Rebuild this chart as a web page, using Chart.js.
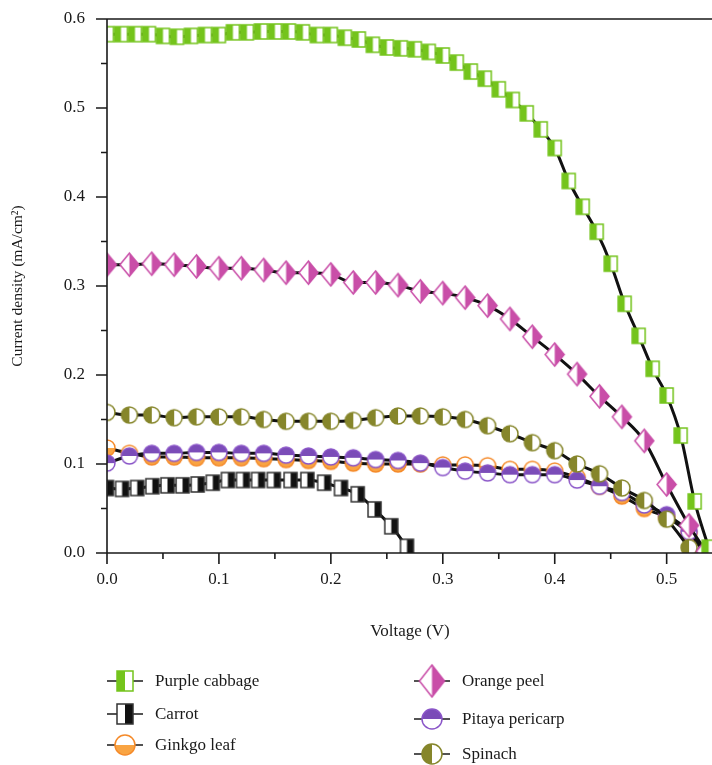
<!DOCTYPE html>
<html>
<head>
<meta charset="utf-8">
<title>J-V curves</title>
<script src="https://cdn.jsdelivr.net/npm/chart.js@4.4.1/dist/chart.umd.min.js"></script>
<style>
  html, body { margin: 0; padding: 0; background: #fff; overflow: hidden; }
  canvas { display: block; }
</style>
</head>
<body>
<canvas id="jv" width="724" height="765"></canvas>
<script>
// J-V curves of dye-sensitized cells with natural dyes

// voltage (V) / current density (mA/cm2) per dye
var cabbageV = [0, 0.0125, 0.025, 0.0375, 0.05, 0.0625, 0.075, 0.0875, 0.1, 0.1125, 0.125, 0.1375, 0.15, 0.1625, 0.175, 0.1875,
  0.2, 0.2125, 0.225, 0.2375, 0.25, 0.2625, 0.275, 0.2875, 0.3, 0.3125, 0.325, 0.3375, 0.35, 0.3625, 0.375, 0.3875,
  0.4, 0.4125, 0.425, 0.4375, 0.45, 0.4625, 0.475, 0.4875, 0.5, 0.5125, 0.525, 0.5375];
var cabbageJ = [0.583, 0.583, 0.583, 0.583, 0.581, 0.580, 0.581, 0.582, 0.582, 0.585, 0.585, 0.586, 0.586, 0.586, 0.585, 0.582,
  0.582, 0.579, 0.577, 0.571, 0.568, 0.567, 0.566, 0.563, 0.559, 0.551, 0.541, 0.533, 0.521, 0.509, 0.494, 0.476,
  0.455, 0.418, 0.389, 0.361, 0.325, 0.280, 0.244, 0.207, 0.177, 0.132, 0.058, 0.006];

var carrotV = [0, 0.0135, 0.027, 0.0405, 0.054, 0.0675, 0.081, 0.0945, 0.108, 0.1215, 0.135, 0.149, 0.164, 0.179,
  0.194, 0.209, 0.224, 0.239, 0.254, 0.268];
var carrotJ = [0.073, 0.072, 0.073, 0.075, 0.076, 0.076, 0.077, 0.079, 0.082, 0.082, 0.082, 0.082, 0.082, 0.082,
  0.079, 0.073, 0.066, 0.049, 0.030, 0.007];

var peelV = [0, 0.02, 0.04, 0.06, 0.08, 0.1, 0.12, 0.14, 0.16, 0.18, 0.2, 0.22, 0.24, 0.26, 0.28, 0.3, 0.32, 0.34,
  0.36, 0.38, 0.4, 0.42, 0.44, 0.46, 0.48, 0.5, 0.52, 0.535];
var peelJ = [0.324, 0.324, 0.325, 0.324, 0.322, 0.320, 0.320, 0.318, 0.315, 0.315, 0.313, 0.304, 0.304, 0.301, 0.294,
  0.292, 0.287, 0.278, 0.263, 0.243, 0.223, 0.201, 0.176, 0.153, 0.126, 0.077, 0.031, 0.002];

var ginkgoV = [0, 0.02, 0.04, 0.06, 0.08, 0.1, 0.12, 0.14, 0.16, 0.18, 0.2, 0.22, 0.24, 0.26, 0.28, 0.3, 0.32, 0.34,
  0.36, 0.38, 0.4, 0.42, 0.44, 0.46, 0.48, 0.5, 0.52, 0.534];
var ginkgoJ = [0.118, 0.112, 0.108, 0.108, 0.107, 0.107, 0.107, 0.106, 0.105, 0.104, 0.103, 0.101, 0.100, 0.100, 0.100,
  0.099, 0.099, 0.098, 0.094, 0.094, 0.092, 0.085, 0.075, 0.064, 0.050, 0.040, 0.022, 0.0];

var pitayaV = [0, 0.02, 0.04, 0.06, 0.08, 0.1, 0.12, 0.14, 0.16, 0.18, 0.2, 0.22, 0.24, 0.26, 0.28, 0.3, 0.32, 0.34,
  0.36, 0.38, 0.4, 0.42, 0.44, 0.46, 0.48, 0.5, 0.52, 0.534];
var pitayaJ = [0.101, 0.109, 0.112, 0.112, 0.113, 0.113, 0.112, 0.112, 0.110, 0.109, 0.108, 0.107, 0.105, 0.104, 0.101,
  0.096, 0.092, 0.090, 0.088, 0.088, 0.088, 0.082, 0.075, 0.068, 0.054, 0.043, 0.024, 0.0];

var spinachV = [0, 0.02, 0.04, 0.06, 0.08, 0.1, 0.12, 0.14, 0.16, 0.18, 0.2, 0.22, 0.24, 0.26, 0.28, 0.3, 0.32, 0.34,
  0.36, 0.38, 0.4, 0.42, 0.44, 0.46, 0.48, 0.5, 0.52];
var spinachJ = [0.158, 0.155, 0.155, 0.152, 0.153, 0.153, 0.153, 0.150, 0.148, 0.148, 0.148, 0.149, 0.152, 0.154, 0.154,
  0.153, 0.150, 0.143, 0.134, 0.124, 0.115, 0.100, 0.089, 0.073, 0.059, 0.038, 0.006];

// axis ticks
var yMajor = [0, 0.1, 0.2, 0.3, 0.4, 0.5, 0.6];
var yMinor = [0.05, 0.15, 0.25, 0.35, 0.45, 0.55];
var xMajor = [0, 0.1, 0.2, 0.3, 0.4, 0.5];
var xMinor = [0.05, 0.15, 0.25, 0.35, 0.45];

var SERIF = '"Liberation Serif", "Times New Roman", serif';

// half-filled marker drawn once to an offscreen canvas, used as pointStyle
function makeMarker(shape, fill, border, half, w, h) {
  var pad = 2;
  var c = document.createElement('canvas');
  c.width = Math.ceil(w + pad * 2);
  c.height = Math.ceil(h + pad * 2);
  var g = c.getContext('2d');
  var cx = c.width / 2, cy = c.height / 2;
  function path() {
    g.beginPath();
    if (shape === 'square') {
      g.rect(cx - w / 2, cy - h / 2, w, h);
    } else if (shape === 'diamond') {
      g.moveTo(cx, cy - h / 2);
      g.lineTo(cx + w / 2, cy);
      g.lineTo(cx, cy + h / 2);
      g.lineTo(cx - w / 2, cy);
      g.closePath();
    } else {
      g.ellipse(cx, cy, w / 2, h / 2, 0, 0, Math.PI * 2);
    }
  }
  path();
  g.fillStyle = '#fff';
  g.fill();
  g.save();
  path();
  g.clip();
  g.fillStyle = fill;
  if (half === 'left') g.fillRect(0, 0, cx, c.height);
  else if (half === 'right') g.fillRect(cx, 0, c.width, c.height);
  else if (half === 'top') g.fillRect(0, 0, c.width, cy);
  else g.fillRect(0, cy, c.width, c.height);
  g.restore();
  path();
  g.lineWidth = 1.5;
  g.strokeStyle = border;
  g.stroke();
  return c;
}

var styles = {
  cabbage: ['square', '#74c41c', '#74c41c', 'left'],
  carrot: ['square', '#111', '#333', 'right'],
  ginkgo: ['circle', '#f9a443', '#f58a2a', 'bottom'],
  peel: ['diamond', '#c94ea8', '#c94ea8', 'right'],
  pitaya: ['circle', '#7b4cb8', '#8a55c8', 'top'],
  spinach: ['circle', '#86862b', '#86862b', 'left']
};
var plotSize = { square: [13, 15], diamond: [19, 23], circle: [16, 16] };
var legendSize = { square: [16, 20], diamond: [25, 32], circle: [20, 20] };

function marker(key, sizes) {
  var s = styles[key];
  var wh = sizes[s[0]];
  return makeMarker(s[0], s[1], s[2], s[3], wh[0], wh[1]);
}

function series(label, key, xs, ys, order) {
  return {
    label: label,
    data: xs.map(function (x, i) { return { x: x, y: ys[i] }; }),
    borderColor: '#111',
    borderWidth: 3,
    pointStyle: marker(key, plotSize),
    pointRadius: 8,
    cubicInterpolationMode: 'monotone',
    fill: false,
    clip: 0,
    order: order
  };
}

var datasets = [
  series('Purple cabbage', 'cabbage', cabbageV, cabbageJ, 1),
  series('Orange peel', 'peel', peelV, peelJ, 2),
  series('Carrot', 'carrot', carrotV, carrotJ, 3),
  series('Spinach', 'spinach', spinachV, spinachJ, 4),
  series('Pitaya pericarp', 'pitaya', pitayaV, pitayaJ, 5),
  series('Ginkgo leaf', 'ginkgo', ginkgoV, ginkgoJ, 6)
];

var legendItems = [
  { label: 'Purple cabbage', key: 'cabbage', x: 125, y: 681 },
  { label: 'Carrot', key: 'carrot', x: 125, y: 714 },
  { label: 'Ginkgo leaf', key: 'ginkgo', x: 125, y: 745 },
  { label: 'Orange peel', key: 'peel', x: 432, y: 681 },
  { label: 'Pitaya pericarp', key: 'pitaya', x: 432, y: 719 },
  { label: 'Spinach', key: 'spinach', x: 432, y: 754 }
];
legendItems.forEach(function (it) { it.img = marker(it.key, legendSize); });

// axis frame with major/minor ticks, plus the legend under the plot
var framePlugin = {
  id: 'frame',
  afterDatasetsDraw: function (chart) {
    var ctx = chart.ctx, a = chart.chartArea;
    var sx = chart.scales.x, sy = chart.scales.y;
    ctx.save();
    ctx.strokeStyle = '#1a1a1a';
    ctx.lineWidth = 1.6;
    ctx.beginPath();
    ctx.moveTo(a.right + 2, a.top);
    ctx.lineTo(a.left, a.top);
    ctx.lineTo(a.left, a.bottom);
    ctx.lineTo(a.right + 2, a.bottom);
    yMajor.forEach(function (v) { var p = sy.getPixelForValue(v); ctx.moveTo(a.left, p); ctx.lineTo(a.left - 11, p); });
    yMinor.forEach(function (v) { var p = sy.getPixelForValue(v); ctx.moveTo(a.left, p); ctx.lineTo(a.left - 6, p); });
    xMajor.forEach(function (v) { var p = sx.getPixelForValue(v); ctx.moveTo(p, a.bottom); ctx.lineTo(p, a.bottom + 11); });
    xMinor.forEach(function (v) { var p = sx.getPixelForValue(v); ctx.moveTo(p, a.bottom); ctx.lineTo(p, a.bottom + 6); });
    ctx.stroke();
    ctx.restore();
  },
  afterDraw: function (chart) {
    var ctx = chart.ctx;
    ctx.save();
    ctx.font = '17px ' + SERIF;
    ctx.fillStyle = '#1a1a1a';
    ctx.textBaseline = 'middle';
    legendItems.forEach(function (it) {
      ctx.strokeStyle = '#1a1a1a';
      ctx.lineWidth = 1.5;
      ctx.beginPath();
      ctx.moveTo(it.x - 18, it.y);
      ctx.lineTo(it.x + 18, it.y);
      ctx.stroke();
      ctx.drawImage(it.img, it.x - it.img.width / 2, it.y - it.img.height / 2);
      ctx.fillText(it.label, it.x + 30, it.y + 1);
    });
    ctx.restore();
  }
};

new Chart(document.getElementById('jv').getContext('2d'), {
  type: 'line',
  data: { datasets: datasets },
  plugins: [framePlugin],
  options: {
    responsive: false,
    animation: false,
    events: [],
    layout: { padding: { top: 19, right: 0, bottom: 120, left: 0 } },
    plugins: { legend: { display: false }, tooltip: { enabled: false } },
    scales: {
      x: {
        type: 'linear',
        min: 0,
        max: 0.5414,
        grid: { display: false, drawTicks: false },
        border: { display: false },
        ticks: {
          stepSize: 0.1,
          includeBounds: false,
          maxRotation: 0,
          padding: 16,
          color: '#1a1a1a',
          font: { family: SERIF, size: 17 },
          callback: function (v) { return Number(v).toFixed(1); }
        },
        title: {
          display: true,
          text: 'Voltage (V)',
          color: '#1a1a1a',
          font: { family: SERIF, size: 17 },
          padding: { top: 0, bottom: 3 }
        },
        afterFit: function (s) {
          s.height = 92;
          s.paddingLeft = 0;
          s.paddingRight = 0;
        }
      },
      y: {
        min: 0,
        max: 0.6,
        grid: { display: false, drawTicks: false },
        border: { display: false },
        ticks: {
          stepSize: 0.1,
          padding: 22,
          color: '#1a1a1a',
          font: { family: SERIF, size: 17 },
          callback: function (v) { return Number(v).toFixed(1); }
        },
        title: {
          display: true,
          text: 'Current density (mA/cm\u00B2)',
          color: '#1a1a1a',
          font: { family: SERIF, size: 15.5 },
          padding: { top: 9, bottom: 0 }
        },
        afterFit: function (s) {
          s.width = 107;
          s.paddingTop = 0;
          s.paddingBottom = 0;
        }
      }
    }
  }
});
</script>
</body>
</html>
